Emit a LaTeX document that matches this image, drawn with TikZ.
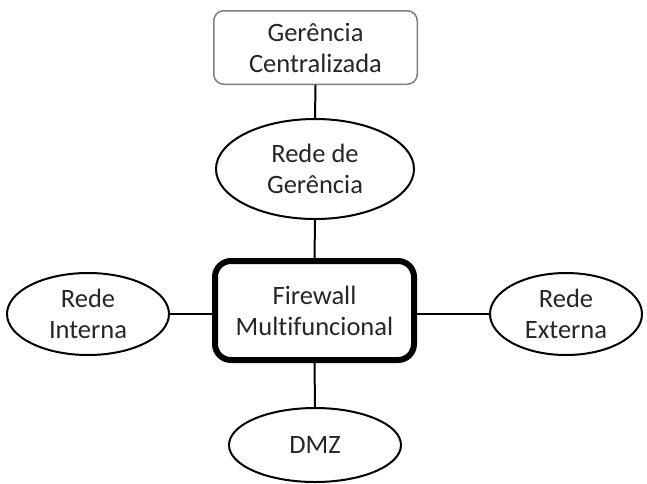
\documentclass[tikz,border=0pt]{standalone}
\usepackage{fontspec}
\setmainfont{Carlito}[Ligatures={NoCommon}]
\usetikzlibrary{shapes.geometric}
\definecolor{txt}{HTML}{262626}
\definecolor{boxgray}{HTML}{7F7F7F}
\begin{document}
\begin{tikzpicture}[x=1pt,y=-1pt,
  every node/.style={font=\fontsize{26.5}{31}\selectfont, text=txt, align=center, inner sep=0pt},
  oval/.style={ellipse, draw=black, line width=2pt},
  rbox/.style={rectangle, rounded corners=10pt, draw=boxgray, line width=1.5pt},
  fwbox/.style={rectangle, rounded corners=16pt, draw=black, line width=6pt},
  link/.style={draw=black, line width=2pt}]
\useasboundingbox (0,0) rectangle (647,483);
\fill[white] (0,0) rectangle (647,483);
\node[rbox, minimum width=203.5pt, minimum height=73.5pt] (gc) at (315.5,47.5) {Gerência\\Centralizada};
\node[oval, minimum width=198pt, minimum height=100pt] (rg) at (315,169) {Rede de\\Gerência};
\node[fwbox, minimum width=199pt, minimum height=99pt] (fw) at (314.5,310.5) {Firewall\\Multifuncional};
\node[oval, minimum width=162pt, minimum height=82pt] (ri) at (88,314) {Rede\\Interna};
\node[oval, minimum width=152pt, minimum height=82pt] (re) at (566,314) {Rede\\Externa};
\node[oval, minimum width=172pt, minimum height=74pt] (dmz) at (315,445) {DMZ};
\draw[link] (gc.south) -- (rg.north);
\draw[link] (rg.south) -- (fw.north);
\draw[link] (fw.south) -- (dmz.north);
\draw[link] (ri.east) -- (ri.east -| fw.west);
\draw[link] (fw.east |- re.west) -- (re.west);
\end{tikzpicture}
\end{document}
